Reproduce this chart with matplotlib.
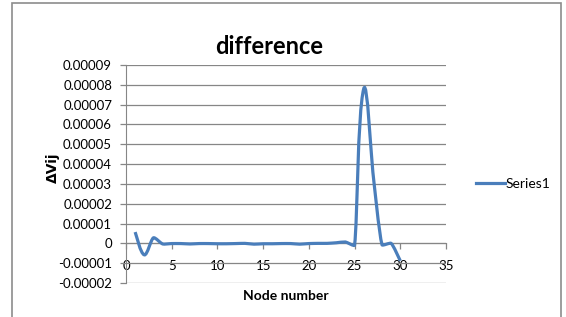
import numpy as np
import matplotlib
matplotlib.use('Agg')
import matplotlib.pyplot as plt
from matplotlib.path import Path
from matplotlib.patches import PathPatch, Rectangle
from matplotlib.lines import Line2D

# values
nodes = list(range(1, 31))
delta_v = [5.7e-6, -5.8e-6, 2.8e-6, -0.3e-6, -0.1e-6, -0.1e-6, -0.3e-6, -0.1e-6, -0.1e-6, -0.2e-6,
           -0.2e-6, -0.1e-6, 0.0, -0.4e-6, -0.2e-6, -0.2e-6, -0.1e-6, -0.1e-6, -0.4e-6, -0.1e-6,
           0.0, 0.0, 0.3e-6, 0.7e-6, -0.9e-6, 7.8e-5, 3.6e-5, -0.7e-6, 0.0, -8.8e-6]

xticks = [0, 5, 10, 15, 20, 25, 30, 35]
yticks = [-2e-5, -1e-5, 0, 1e-5, 2e-5, 3e-5, 4e-5, 5e-5, 6e-5, 7e-5, 8e-5, 9e-5]
ytick_labels = ['-0.00002', '-0.00001', '0', '0.00001', '0.00002', '0.00003', '0.00004',
                '0.00005', '0.00006', '0.00007', '0.00008', '0.00009']

plt.rcParams['font.family'] = ['Lato', 'DejaVu Sans']
line_color = '#4a7ebb'
grid_color = '#868686'

fig = plt.figure(figsize=(5.66, 3.17), dpi=100)
ax = fig.add_axes([126 / 566, 1 - 283 / 317, 320 / 566, 218 / 317])
ax.set_xlim(0, 35)
ax.set_ylim(-2e-5, 9e-5)

# smoothed line like Excel: bezier through the points, worked out in screen space
pts = ax.transData.transform(np.column_stack([nodes, delta_v]))
n = len(pts)
tang = []
for i in range(n):
    d = pts[min(i + 1, n - 1)] - pts[max(i - 1, 0)]
    tang.append(d / np.hypot(*d))
verts = [pts[0]]
codes = [Path.MOVETO]
k = 1 / 6
for i in range(n - 1):
    seg = np.hypot(*(pts[i + 1] - pts[i]))
    verts += [pts[i] + tang[i] * seg * k, pts[i + 1] - tang[i + 1] * seg * k, pts[i + 1]]
    codes += [Path.CURVE4] * 3
verts = ax.transData.inverted().transform(np.array(verts))
ax.add_patch(PathPatch(Path(verts, codes), facecolor='none', edgecolor=line_color,
                       lw=2.3, capstyle='butt', joinstyle='round', zorder=3))

ax.set_xticks(xticks)
ax.set_yticks(yticks)
ax.set_yticklabels(ytick_labels)
ax.yaxis.grid(True, color=grid_color, lw=0.9)
ax.set_axisbelow(True)

for s in ['top', 'right']:
    ax.spines[s].set_visible(False)
ax.spines['bottom'].set_position(('data', 0))
ax.spines['bottom'].set_color(grid_color)
ax.spines['left'].set_color(grid_color)
ax.tick_params(axis='both', colors=grid_color, labelcolor='black', labelsize=9.5, length=4, width=0.9)
ax.tick_params(axis='x', pad=8)
ax.tick_params(axis='y', pad=6)

ax.set_xlabel('Node number', fontsize=10, fontweight='bold')
ax.xaxis.set_label_coords(0.5, -0.03)
ax.set_ylabel('ΔVij', fontsize=10, fontweight='bold', family=['DejaVu Sans'])
ax.yaxis.set_label_coords(-0.205, 0.53)

fig.text(269 / 566, 1 - 46 / 317, 'difference', fontsize=17, fontweight='bold',
         ha='center', va='center')

leg_handle = Line2D([], [], color=line_color, lw=2.3)
fig.legend([leg_handle], ['Series1'], loc='center left', bbox_to_anchor=(463 / 566, 1 - 184 / 317),
           frameon=False, fontsize=10, handlelength=2.1, handletextpad=0.05)

# chart area border
fig.patches.append(Rectangle((12 / 566, -0.1), 549 / 566, 1.1 - 3.5 / 317, transform=fig.transFigure,
                             fill=False, edgecolor='#8c8c8c', lw=1.2))

fig.savefig('out.png', dpi=100)
